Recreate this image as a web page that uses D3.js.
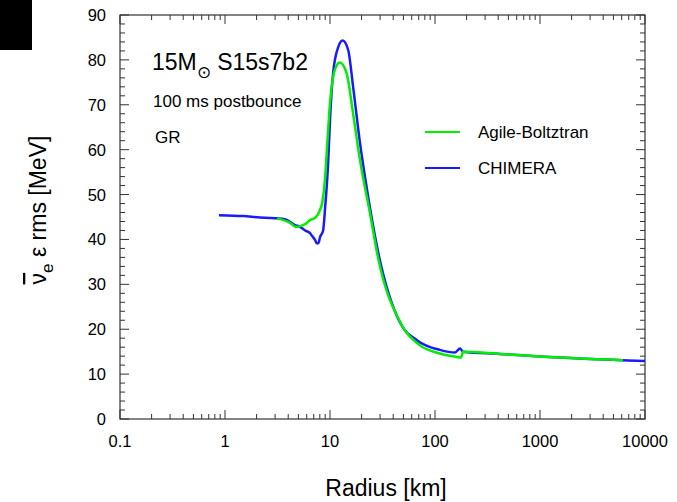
<!DOCTYPE html>
<html>
<head>
<meta charset="utf-8">
<script src="https://cdn.jsdelivr.net/npm/d3@7"></script>
<style>
  body { margin: 0; background: #fff; }
  svg { font-family: "Liberation Sans", Arial, Helvetica, sans-serif; }
</style>
</head>
<body>
<svg id="chart"></svg>
<script>
const width = 677;
const height = 502;

// Agile-Boltztran (green)
const agileR = [3.13, 4.16, 4.74, 5.79, 6.45, 7.2, 7.6, 8.0, 8.4, 9.0, 9.3, 10, 11.1, 12.4, 14.4, 16.6, 19.3, 24.0, 28.6, 47.5, 72, 111, 155, 177, 185, 414, 1000, 6170];
const agileE = [44.7, 43.7, 42.8, 43.4, 44.3, 44.8, 45.4, 46.5, 48.0, 54.0, 59.2, 70.4, 77.7, 79.4, 77.0, 68.0, 57.7, 45.9, 36.1, 21.2, 16.4, 14.6, 13.9, 13.7, 15.0, 14.5, 13.9, 13.1];

// CHIMERA (blue)
const chimR = [0.877, 1.5, 2.15, 2.68, 3.13, 3.72, 4.64, 5.18, 5.79, 6.45, 6.74, 7.2, 7.52, 7.8, 8.04, 8.41, 8.6, 8.98, 9.6, 10, 10.7, 12.0, 13.2, 14.9, 16.6, 19.3, 22.3, 29.4, 46.4, 68.8, 111, 155, 173, 185, 414, 1000, 10000];
const chimE = [45.4, 45.2, 44.9, 44.8, 44.7, 44.5, 43.2, 42.8, 42.0, 41.4, 40.8, 39.9, 39.1, 39.3, 40.5, 41.4, 42.0, 47.0, 57.0, 66.6, 77.0, 82.9, 84.3, 82.2, 74.0, 61.5, 51.7, 36.1, 21.5, 17.4, 15.4, 14.8, 15.7, 15.0, 14.5, 13.9, 12.9];

const xTicks = [0.1, 1, 10, 100, 1000, 10000];
const xTickLabels = ["0.1", "1", "10", "100", "1000", "10000"];
const yTicks = [0, 10, 20, 30, 40, 50, 60, 70, 80, 90];

const margin = { top: 15, right: 32, bottom: 83, left: 120 };

const svg = d3.select("#chart")
    .attr("width", width)
    .attr("height", height);

// black block in top-left corner
svg.append("rect")
    .attr("x", 0).attr("y", 0)
    .attr("width", 32).attr("height", 50)
    .attr("fill", "#000");

const x = d3.scaleLog()
    .domain([0.1, 10000])
    .range([margin.left, width - margin.right]);

const y = d3.scaleLinear()
    .domain([0, 90])
    .range([height - margin.bottom, margin.top]);

const x0 = x.range()[0], x1 = x.range()[1];
const y0 = y.range()[0], y1 = y.range()[1];

// minor ticks for log axis
const xMinor = [];
for (let d = 0.1; d < 10000; d *= 10) {
    for (let k = 2; k <= 9; k++) xMinor.push(d * k);
}
const yMinor = d3.range(0, 90, 2).filter(v => v % 10 !== 0);

const axisColor = "#333";
const ticks = svg.append("g").attr("stroke", axisColor).attr("stroke-width", 1);

// bottom & top ticks (inward)
xTicks.forEach(v => {
    ticks.append("line").attr("x1", x(v)).attr("x2", x(v)).attr("y1", y0).attr("y2", y0 - 9);
    ticks.append("line").attr("x1", x(v)).attr("x2", x(v)).attr("y1", y1).attr("y2", y1 + 9);
});
xMinor.forEach(v => {
    ticks.append("line").attr("x1", x(v)).attr("x2", x(v)).attr("y1", y0).attr("y2", y0 - 5);
    ticks.append("line").attr("x1", x(v)).attr("x2", x(v)).attr("y1", y1).attr("y2", y1 + 5);
});
// left & right ticks
yTicks.forEach(v => {
    ticks.append("line").attr("x1", x0).attr("x2", x0 + 9).attr("y1", y(v)).attr("y2", y(v));
    ticks.append("line").attr("x1", x1).attr("x2", x1 - 9).attr("y1", y(v)).attr("y2", y(v));
});
yMinor.forEach(v => {
    ticks.append("line").attr("x1", x0).attr("x2", x0 + 5).attr("y1", y(v)).attr("y2", y(v));
    ticks.append("line").attr("x1", x1).attr("x2", x1 - 5).attr("y1", y(v)).attr("y2", y(v));
});

// frame
svg.append("rect")
    .attr("x", x0).attr("y", y1)
    .attr("width", x1 - x0).attr("height", y0 - y1)
    .attr("fill", "none")
    .attr("stroke", axisColor)
    .attr("stroke-width", 1.2);

// tick labels
svg.append("g").selectAll("text")
    .data(xTicks)
    .join("text")
    .attr("x", d => x(d))
    .attr("y", y0 + 28)
    .attr("text-anchor", "middle")
    .attr("font-size", 16.5)
    .text((d, i) => xTickLabels[i]);

svg.append("g").selectAll("text")
    .data(yTicks)
    .join("text")
    .attr("x", x0 - 14)
    .attr("y", d => y(d) + 6)
    .attr("text-anchor", "end")
    .attr("font-size", 16.5)
    .text(d => d);

// axis titles
svg.append("text")
    .attr("x", 386)
    .attr("y", 496)
    .attr("text-anchor", "middle")
    .attr("font-size", 23)
    .text("Radius [km]");

const yl = svg.append("text")
    .attr("transform", "translate(46,210) rotate(-90)")
    .attr("text-anchor", "middle")
    .attr("font-size", 23);
yl.append("tspan").attr("text-decoration", "overline").text("\u03bd");
yl.append("tspan").attr("font-size", 17).attr("dy", 7).text("e");
yl.append("tspan").attr("dy", -7).text(" \u03b5 rms [MeV]");

// curves
const line = d3.line()
    .x(d => x(d[0]))
    .y(d => y(d[1]))
    .curve(d3.curveMonotoneX);

svg.append("path")
    .datum(d3.zip(chimR, chimE))
    .attr("fill", "none")
    .attr("stroke", "#1a1aff")
    .attr("stroke-width", 2.5)
    .attr("stroke-linejoin", "round")
    .attr("d", line);

svg.append("path")
    .datum(d3.zip(agileR, agileE))
    .attr("fill", "none")
    .attr("stroke", "#00ee00")
    .attr("stroke-width", 2.5)
    .attr("stroke-linejoin", "round")
    .attr("d", line);

// annotations
const t1 = svg.append("text").attr("x", 152).attr("y", 70).attr("font-size", 23);
t1.append("tspan").text("15M");
t1.append("tspan").attr("font-size", 17).attr("dy", 8).text("\u2299");
t1.append("tspan").attr("dy", -8).text(" S15s7b2");

svg.append("text").attr("x", 153).attr("y", 107).attr("font-size", 17).text("100 ms postbounce");
svg.append("text").attr("x", 155).attr("y", 143).attr("font-size", 17).text("GR");

// legend
const legend = [["Agile-Boltztran", "#00ee00"], ["CHIMERA", "#1a1aff"]];
legend.forEach(([name, col], i) => {
    const ly = 132 + i * 36;
    svg.append("line")
        .attr("x1", 425).attr("x2", 460)
        .attr("y1", ly).attr("y2", ly)
        .attr("stroke", col).attr("stroke-width", 2);
    svg.append("text")
        .attr("x", 478).attr("y", ly + 6)
        .attr("font-size", 17)
        .text(name);
});
</script>
</body>
</html>
